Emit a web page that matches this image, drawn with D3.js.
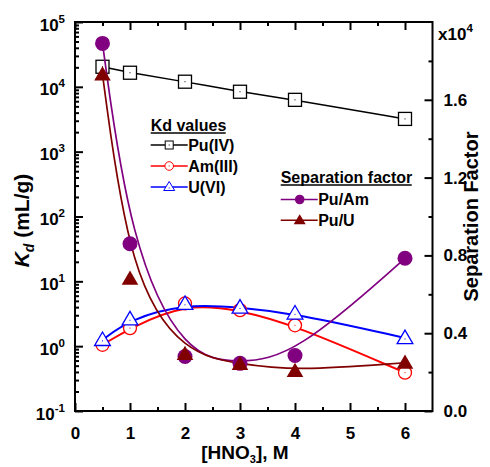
<!DOCTYPE html>
<html><head><meta charset="utf-8">
<script src="https://cdn.jsdelivr.net/npm/d3@7"></script>
<style>
body{margin:0;background:#fff;}
text{font-family:"Liberation Sans",Arial,sans-serif;font-weight:bold;fill:#000;}
</style></head>
<body><svg id="c" width="490" height="467"></svg>
<script>
// ---- data ----
const hno3 = [0.5, 1, 2, 3, 4, 6];
const kdPu = [20400, 16500, 12000, 8400, 6300, 3200];
const kdAm = [1.05, 1.9, 4.56, 3.6, 2.1, 0.39];
const kdU  = [1.25, 2.6, 4.5, 3.95, 3.2, 1.34];
const sfPuAm = [18900, 8600, 2800, 2450, 2850, 7850];
const sfPuU  = [17300, 6800, 2930, 2420, 2060, 2480];
const xTicks = [0, 1, 2, 3, 4, 5, 6];
const xMinor = [0.5, 1.5, 2.5, 3.5, 4.5, 5.5];
const yLeftExp = [-1, 0, 1, 2, 3, 4, 5];
const yRightTicks = [0, 4000, 8000, 12000, 16000];
const yRightLabels = ["0.0", "0.4", "0.8", "1.2", "1.6"];
const yRightMinor = [2000, 6000, 10000, 14000, 18000];

const svg = d3.select("#c");
const L = 75, R = 432.5, T = 22, B = 411;
const x = d3.scaleLinear([0, 6.5], [L, R]);
const yL = d3.scaleLog([0.1, 1e5], [B, T]);
const yR = d3.scaleLinear([0, 20000], [B, T]);

function styleAxis(g){ g.selectAll("path,line").attr("stroke","#000").attr("stroke-width",2); g.select(".domain").remove(); }

// frame
svg.append("rect").attr("x",L).attr("y",T).attr("width",R-L).attr("height",B-T)
  .attr("fill","none").attr("stroke","#000").attr("stroke-width",2);

// bottom axis
const gb = svg.append("g").attr("transform",`translate(0,${B})`)
  .call(d3.axisBottom(x).tickValues(xTicks).tickSizeInner(-8).tickSizeOuter(0).tickPadding(15.5).tickFormat(d3.format("d")));
styleAxis(gb);
gb.selectAll("text").attr("font-size",17).attr("font-family",null).attr("fill","#000");
const gbm = svg.append("g").attr("transform",`translate(0,${B})`)
  .call(d3.axisBottom(x).tickValues(xMinor).tickSizeInner(-4).tickSizeOuter(0).tickFormat(""));
styleAxis(gbm);
// top axis
const gt = svg.append("g").attr("transform",`translate(0,${T})`)
  .call(d3.axisTop(x).tickValues(xTicks).tickSizeInner(-8).tickSizeOuter(0).tickFormat(""));
styleAxis(gt);
const gtm = svg.append("g").attr("transform",`translate(0,${T})`)
  .call(d3.axisTop(x).tickValues(xMinor).tickSizeInner(-4).tickSizeOuter(0).tickFormat(""));
styleAxis(gtm);

// left log axis
const decades = yLeftExp.map(e => Math.pow(10, e));
const logMinor = [];
yLeftExp.slice(0, -1).forEach(e => { for (let k = 2; k <= 9; k++) logMinor.push(k * Math.pow(10, e)); });
const gl = svg.append("g").attr("transform",`translate(${L},0)`)
  .call(d3.axisLeft(yL).tickValues(decades).tickSizeInner(-8).tickSizeOuter(0).tickFormat(""));
styleAxis(gl);
const glm = svg.append("g").attr("transform",`translate(${L},0)`)
  .call(d3.axisLeft(yL).tickValues(logMinor).tickSizeInner(-4).tickSizeOuter(0).tickFormat(""));
styleAxis(glm);
svg.selectAll(".ylab").data(yLeftExp).enter().append("text")
  .attr("x", 65).attr("y", d => yL(Math.pow(10, d)) + 8.5)
  .attr("text-anchor","end").attr("font-size",17)
  .each(function(d){
    const t = d3.select(this);
    t.append("tspan").text("10");
    t.append("tspan").attr("font-size",11.5).attr("dy",-8).text(d);
  });

// right axis
const gr = svg.append("g").attr("transform",`translate(${R},0)`)
  .call(d3.axisRight(yR).tickValues(yRightTicks).tickSizeInner(-8).tickSizeOuter(0).tickPadding(11)
    .tickFormat((d,i) => yRightLabels[i]));
styleAxis(gr);
gr.selectAll("text").attr("font-size",17).attr("font-family",null).attr("fill","#000");
const grm = svg.append("g").attr("transform",`translate(${R},0)`)
  .call(d3.axisRight(yR).tickValues(yRightMinor).tickSizeInner(-4).tickSizeOuter(0).tickFormat(""));
styleAxis(grm);
const xt = svg.append("text").attr("x",438).attr("y",40).attr("font-size",17);
xt.append("tspan").text("x10");
xt.append("tspan").attr("font-size",11.5).attr("dy",-8).text("4");

// axis titles
const xl = svg.append("text").attr("x",245).attr("y",459).attr("text-anchor","middle").attr("font-size",19);
xl.append("tspan").text("[HNO");
xl.append("tspan").attr("font-size",11).attr("dy",4).text("3");
xl.append("tspan").attr("dy",-4).text("], M");

const yl = svg.append("text").attr("transform",`translate(29,${(T+B)/2 + 4}) rotate(-90)`).attr("text-anchor","middle").attr("font-size",21);
yl.append("tspan").attr("font-style","italic").text("K");
yl.append("tspan").attr("font-style","italic").attr("font-size",14).attr("dy",5).text("d");
yl.append("tspan").attr("dy",-5).text(" (mL/g)");

svg.append("text").attr("transform",`translate(478,${(T+B)/2}) rotate(-90)`).attr("text-anchor","middle").attr("font-size",20).text("Separation Factor");

// series
const seriesKd = [
  {vals: kdPu, color:"#000000", marker:"square", w:1.5},
  {vals: kdAm, color:"#ff0000", marker:"circle", w:2},
  {vals: kdU,  color:"#0000ff", marker:"triangle", w:2}
];
const seriesSF = [
  {vals: sfPuAm, color:"#800080", marker:"fcircle", w:1.7},
  {vals: sfPuU,  color:"#800000", marker:"ftriangle", w:1.7}
];

function drawMarker(g, type, cx, cy, color){
  if (type === "square") {
    g.append("rect").attr("x",cx-6.5).attr("y",cy-6.5).attr("width",13).attr("height",13)
      .attr("fill","#fff").attr("stroke",color).attr("stroke-width",1.3);
    g.append("rect").attr("x",cx-0.5).attr("y",cy-0.5).attr("width",1).attr("height",1).attr("fill",color);
  } else if (type === "circle") {
    g.append("circle").attr("cx",cx).attr("cy",cy).attr("r",6.5)
      .attr("fill","#fff").attr("stroke",color).attr("stroke-width",1.3);
    g.append("rect").attr("x",cx-0.5).attr("y",cy-0.5).attr("width",1).attr("height",1).attr("fill",color);
  } else if (type === "triangle") {
    const s = 7.5;
    g.append("path").attr("d",`M${cx},${cy-s*1.05}L${cx+s*1.05},${cy+s*0.75}L${cx-s*1.05},${cy+s*0.75}Z`)
      .attr("fill","#fff").attr("stroke",color).attr("stroke-width",1.3);
    g.append("rect").attr("x",cx-0.5).attr("y",cy+0.5).attr("width",1).attr("height",1).attr("fill",color);
  } else if (type === "fcircle") {
    g.append("circle").attr("cx",cx).attr("cy",cy).attr("r",7.5).attr("fill",color);
  } else if (type === "ftriangle") {
    const s = 8.3;
    g.append("path").attr("d",`M${cx},${cy-s*1.0}L${cx+s},${cy+s*0.72}L${cx-s},${cy+s*0.72}Z`).attr("fill",color);
  }
}

const lineL = d3.line().x((d,i) => x(hno3[i])).y(d => yL(d)).curve(d3.curveBasis);
const lineR = d3.line().x((d,i) => x(hno3[i])).y(d => yR(d)).curve(d3.curveBasis);

const gs = svg.append("g");
seriesKd.forEach(s => {
  gs.append("path").attr("d", lineL(s.vals)).attr("fill","none").attr("stroke",s.color).attr("stroke-width",s.w);
});
seriesKd.forEach(s => {
  s.vals.forEach((v,i) => drawMarker(gs, s.marker, x(hno3[i]), yL(v), s.color));
});
seriesSF.forEach(s => {
  gs.append("path").attr("d", lineR(s.vals)).attr("fill","none").attr("stroke",s.color).attr("stroke-width",s.w);
});
seriesSF.forEach(s => {
  s.vals.forEach((v,i) => drawMarker(gs, s.marker, x(hno3[i]), yR(v), s.color));
});

// legends
const legKd = [{name:"Pu(IV)",s:seriesKd[0]},{name:"Am(III)",s:seriesKd[1]},{name:"U(VI)",s:seriesKd[2]}];
const legSF = [{name:"Pu/Am",s:seriesSF[0]},{name:"Pu/U",s:seriesSF[1]}];
function legend(title, items, x0, yTitle, yFirst, dy, titleW){
  const g = svg.append("g");
  g.append("text").attr("x",x0).attr("y",yTitle).attr("font-size",16).text(title);
  g.append("line").attr("x1",x0).attr("x2",x0+titleW).attr("y1",yTitle+2.5).attr("y2",yTitle+2.5).attr("stroke","#000").attr("stroke-width",1.5);
  items.forEach((it,i) => {
    const cy = yFirst + i*dy;
    g.append("line").attr("x1",x0).attr("x2",x0+37).attr("y1",cy).attr("y2",cy).attr("stroke",it.s.color).attr("stroke-width",1.5);
    const m = it.s.marker;
    const gm = g.append("g");
    if (m === "square") { gm.append("rect").attr("x",x0+18.5-4).attr("y",cy-4).attr("width",8).attr("height",8).attr("fill","#fff").attr("stroke",it.s.color).attr("stroke-width",1); gm.append("rect").attr("x",x0+18).attr("y",cy-0.5).attr("width",1).attr("height",1).attr("fill",it.s.color); }
    else if (m === "circle") { gm.append("circle").attr("cx",x0+18.5).attr("cy",cy).attr("r",4.3).attr("fill","#fff").attr("stroke",it.s.color).attr("stroke-width",1); gm.append("rect").attr("x",x0+18).attr("y",cy-0.5).attr("width",1).attr("height",1).attr("fill",it.s.color); }
    else if (m === "triangle") { const c=x0+18.5; gm.append("path").attr("d",`M${c},${cy-5.5}L${c+5.5},${cy+3.5}L${c-5.5},${cy+3.5}Z`).attr("fill","#fff").attr("stroke",it.s.color).attr("stroke-width",1); gm.append("rect").attr("x",c-0.5).attr("y",cy+0.5).attr("width",1).attr("height",1).attr("fill",it.s.color); }
    else if (m === "fcircle") { gm.append("circle").attr("cx",x0+19).attr("cy",cy).attr("r",4.8).attr("fill",it.s.color); }
    else if (m === "ftriangle") { const c=x0+19; gm.append("path").attr("d",`M${c},${cy-6}L${c+6},${cy+4}L${c-6},${cy+4}Z`).attr("fill",it.s.color); }
    g.append("text").attr("x",x0+37.5).attr("y",cy+5.8).attr("font-size",16).text(it.name);
  });
}
legend("Kd values", legKd, 150.7, 130.5, 145, 21, 75);
legend("Separation factor", legSF, 280.7, 182.5, 199.5, 20.7, 131);
</script></body></html>
